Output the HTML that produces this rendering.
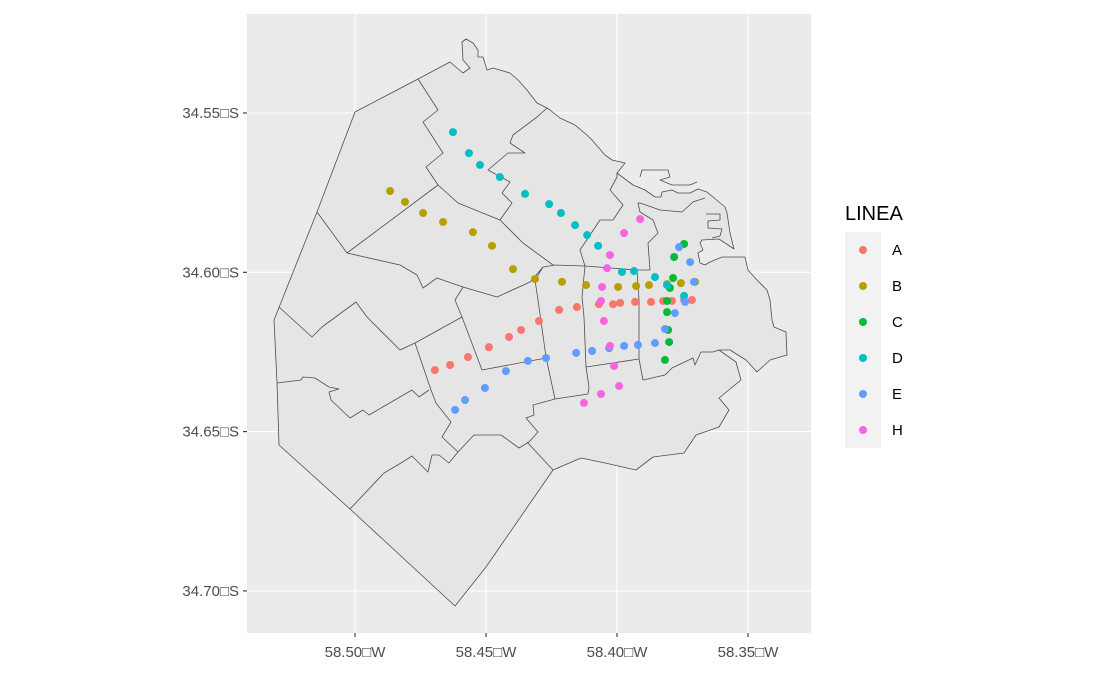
<!DOCTYPE html>
<html><head><meta charset="utf-8"><style>
body{margin:0;background:#fff;}
svg{display:block;font-family:"Liberation Sans",sans-serif;}
</style></head><body>
<svg id="chart" width="1093" height="675" viewBox="0 0 1093 675">
<rect x="247" y="14" width="564" height="619" fill="#EBEBEB"/>
<g id="grid"></g>
<g fill="none" stroke="#4d4d4d" stroke-width="0.8" stroke-linejoin="round">
<polygon fill="#E5E5E5" points="466,39 473,43 478,50 478,57 483,57 487,70 493,68 510,73 518,80 527,90 537,103 547,108 550,110 560,118 575,125 587,135 592,140 605,155 612,160 625,163 617,173 633,185 645,190 655,197 661,197 662,192 672,190 678,193 690,193 698,189 707,192 725,207 727,213 730,233 734,249 719,239 702,240 700,243 703,250 698,253 700,263 705,265 710,262 722,257 745,257 748,270 757,280 767,290 770,300 772,320 774,327 786,332 787,355 770,360 757,372 746,360 730,350 719,350 736,362 741,380 719,398 729,410 719,427 696,435 684,453 653,457 636,470 605,463 581,458 553,470 486,567 455,606 350,509 279,445 277,383 274,320 317,212 355,112 418,79 450,62 463,73 470,68 463,60 462,42"/>
<polyline points="640,177 642,170 668,170 670,177 660,180 672,185 690,185 697,182"/>
<polyline points="706,214 720,214 720,220 708,221 708,228 722,229 720,236 712,238"/>
<polyline points="418,79 438,110 423,122 443,153 426,167 438,185 347,253 317,212"/>
<polyline points="438,185 458,203 500,220 512,203 502,193 510,182 488,170 508,153 525,153 510,143 513,135 537,117 547,108"/>
<polyline points="500,220 523,243 553,265 585,266 637,270 650,270 648,243 658,233 653,220 640,212 638,203 640,203 660,210 682,212 693,202 705,198"/>
<polyline points="585,266 580,250 600,220 613,220 623,205 610,190 617,177 617,173"/>
<polyline points="347,253 400,265 417,275 423,288 437,278 463,287 497,297 530,282 543,267 555,265"/>
<polyline points="279,307 312,337 322,327 356,302 367,317 400,350 415,343 462,317 455,300 463,287"/>
<polyline points="415,343 431,390 436,403 451,422 442,437 458,452 474,435 501,435 519,448 529,442 538,432 526,418 534,415 533,405 555,399 588,394 589,387 586,367 639,359 643,380 665,375 672,368 693,358 695,365 701,352 713,352 719,350"/>
<polyline points="277,383 301,380 303,377 315,378 329,387 339,389 329,392 331,400 350,418 363,410 369,415 412,390 419,397 429,390"/>
<polyline points="350,509 384,473 401,463 412,456 428,472 432,455 439,455 449,463 458,452"/>
<polyline points="527,442 553,470"/>
<polyline points="462,317 482,370 546,358"/>
<polyline points="543,267 535,280 538,300 546,357 555,399"/>
<polyline points="585,266 582,297 584,317 586,367"/>
<polyline points="637,270 639,300 639,359"/>
</g>
<g id="points"></g>
<g id="axes" font-size="15" fill="#4d4d4d"></g>
<g>
<text x="845" y="220" font-size="20" fill="#000">LINEA</text>
<rect x="845" y="232" width="36" height="216" fill="#F2F2F2"/>
<g id="legend-entries"></g>
</g>
</svg>
<script>
const lines = ["A","B","C","D","E","H"];
const colors = ["#F8766D","#B79F00","#00BA38","#00BFC4","#619CFF","#F564E3"];
const xTicks = [58.50,58.45,58.40,58.35];
const yTicks = [34.55,34.60,34.65,34.70];
const lonA = [58.4695,58.4637,58.4569,58.4489,58.4412,58.4366,58.4298,58.4221,58.4153,58.4069,58.4015,58.3988,58.3931,58.3870,58.3824,58.3790,58.3744,58.3714];
const latA = [34.6307,34.6291,34.6266,34.6235,34.6203,34.6181,34.6153,34.6118,34.6109,34.6100,34.6100,34.6096,34.6093,34.6093,34.6090,34.6090,34.6087,34.6087];
const lonB = [58.4866,58.4809,58.4740,58.4664,58.4550,58.4477,58.4397,58.4313,58.4210,58.4118,58.3996,58.3927,58.3878,58.3809,58.3756,58.3702];
const latB = [34.5745,34.5779,34.5814,34.5842,34.5874,34.5917,34.5990,34.6021,34.6030,34.6040,34.6046,34.6043,34.6040,34.6037,34.6034,34.6030];
const lonC = [58.3744,58.3782,58.3786,58.3798,58.3809,58.3809,58.3805,58.3801,58.3817];
const latC = [34.5911,34.5952,34.6018,34.6049,34.6090,34.6125,34.6181,34.6219,34.6275];
const lonD = [58.4626,58.4565,58.4523,58.4447,58.4351,58.4259,58.4214,58.4160,58.4114,58.4072,58.3981,58.3935,58.3855,58.3809,58.3744];
const latD = [34.5560,34.5626,34.5663,34.5701,34.5754,34.5786,34.5814,34.5852,34.5883,34.5917,34.5999,34.5996,34.6015,34.6040,34.6074];
const lonE = [58.4618,58.4580,58.4504,58.4424,58.4340,58.4271,58.4156,58.4095,58.4030,58.3973,58.3920,58.3855,58.3817,58.3779,58.3740,58.3706,58.3721,58.3763];
const latE = [34.6432,34.6401,34.6363,34.6310,34.6278,34.6269,34.6253,34.6247,34.6238,34.6231,34.6228,34.6222,34.6178,34.6128,34.6093,34.6030,34.5968,34.5921];
const lonH = [58.3912,58.3973,58.4027,58.4038,58.4057,58.4061,58.4050,58.4027,58.4011,58.3992,58.4061,58.4126];
const latH = [34.5833,34.5877,34.5946,34.5987,34.6046,34.6090,34.6153,34.6231,34.6294,34.6357,34.6382,34.6410];

const NS="http://www.w3.org/2000/svg";
function sx(lon){return 355+(58.50-lon)/0.05*131;}
function sy(lat){return 113+(lat-34.55)/0.05*159.3;}
function mk(tag,parent,attrs){const e=document.createElementNS(NS,tag);for(const k in attrs)e.setAttribute(k,attrs[k]);parent.appendChild(e);return e;}
const grid=document.getElementById('grid'), axes=document.getElementById('axes');
xTicks.forEach(t=>{
  const x=sx(t);
  const l=mk('line',grid,{x1:x,x2:x,y1:14,y2:633,stroke:'#fff','stroke-width':1.1});
  
  
  const tk=mk('line',axes,{x1:x,x2:x,y1:633,y2:637,stroke:'#333','stroke-width':1.1});
  
  
  const tx=mk('text',axes,{x:x,y:657,'text-anchor':'middle'});
  tx.textContent=t.toFixed(2)+'□W';
  
  
});
yTicks.forEach(t=>{
  const y=sy(t);
  const l=mk('line',grid,{x1:247,x2:811,y1:y,y2:y,stroke:'#fff','stroke-width':1.1});
  
  
  const tk=mk('line',axes,{x1:243,x2:247,y1:y,y2:y,stroke:'#333','stroke-width':1.1});
  
  
  const tx=mk('text',axes,{x:239,y:y+5,'text-anchor':'end'});
  tx.textContent=t.toFixed(2)+'□S';
  
  
});
const series=[[lonA,latA],[lonB,latB],[lonC,latC],[lonD,latD],[lonE,latE],[lonH,latH]];
const pts=document.getElementById('points');
series.forEach((s,i)=>{
  s[0].forEach((lon,j)=>{
    const c=mk('circle',pts,{cx:sx(lon),cy:sy(s[1][j]),r:4,fill:colors[i]});
    
    
  });
});
const leg=document.getElementById('legend-entries');
lines.forEach((n,i)=>{
  const y=250+i*36;
  const c=mk('circle',leg,{cx:863,cy:y,r:4,fill:colors[i]});
  
  
  const t=mk('text',leg,{x:892,y:y+5,'font-size':15,fill:'#000'});
  t.textContent=n;
  
  
});
</script>
</body></html>
